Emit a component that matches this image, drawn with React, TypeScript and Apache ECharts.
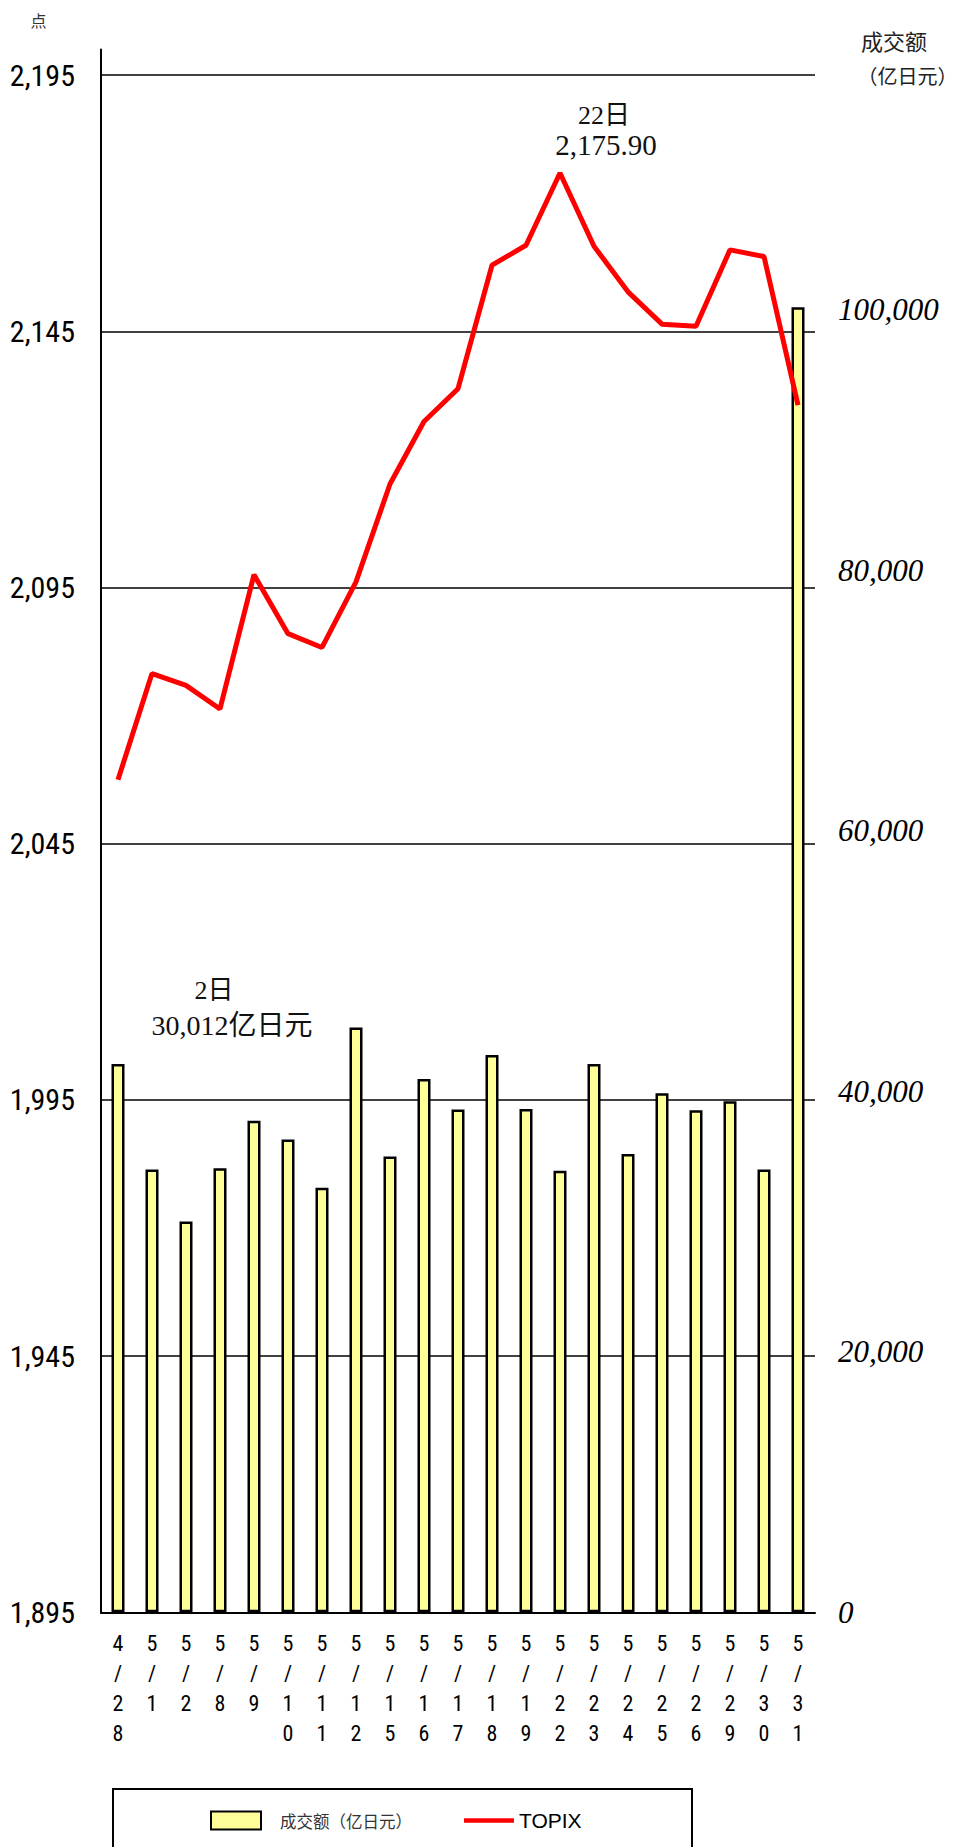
import React, { useEffect, useRef } from "react";
import * as echarts from "echarts";

// ---- data ----
const categories = ["4/28", "5/1", "5/2", "5/8", "5/9", "5/10", "5/11", "5/12", "5/15", "5/16", "5/17", "5/18", "5/19", "5/22", "5/23", "5/24", "5/25", "5/26", "5/29", "5/30", "5/31"];
// 成交额（亿日元）
const turnover = [42100, 34000, 30012, 34100, 37750, 36300, 32600, 44900, 35000, 40950, 38600, 42800, 38650, 33900, 42100, 35200, 39850, 38550, 39250, 34000, 100200];
// TOPIX
const topix = [2057.5, 2078.2, 2075.9, 2071.3, 2097.5, 2086.0, 2083.3, 2096.1, 2115.2, 2127.4, 2133.8, 2157.9, 2161.8, 2175.9, 2161.6, 2152.7, 2146.4, 2146.0, 2160.9, 2159.6, 2130.6];
const leftBase = 1895; // bottom of left axis
const leftSpan = 305; // 1895 .. 2200
const leftInterval = 50;
const rightMax = 120000;
const rightInterval = 20000;

const SERIF = "'Liberation Serif', 'DejaVu Serif', 'Noto Sans CJK SC', serif";
const CJK = "'Noto Sans CJK SC', sans-serif";
const NARROW = "'Liberation Sans Narrow', 'Arial Narrow', 'Roboto Condensed', 'Liberation Sans', sans-serif";

function fmt(n: number): string {
  return n.toLocaleString("en-US");
}

export default function App() {
  const ref = useRef<HTMLDivElement>(null);
  useEffect(() => {
    document.body.style.margin = "0";
    if (!ref.current) return;
    const chart = echarts.init(ref.current, undefined, { renderer: "svg" });
    const option: any = {
      animation: false,
      backgroundColor: "#fff",
      grid: { left: 101, right: 146, top: 49.5, bottom: 234.7, containLabel: false },
      xAxis: {
        type: "category",
        data: categories,
        boundaryGap: true,
        axisLine: { show: true, onZero: false, lineStyle: { color: "#000", width: 2 } },
        axisTick: { show: false },
        axisLabel: {
          interval: 0,
          margin: 16,
          fontSize: 22,
          lineHeight: 30,
          color: "#000",
          fontFamily: NARROW,
          formatter: (v: string) => v.split("").join("\n"),
        },
      },
      yAxis: [
        {
          type: "value",
          min: 0,
          max: leftSpan,
          interval: leftInterval,
          position: "left",
          axisLine: { show: true, lineStyle: { color: "#000", width: 2 } },
          axisTick: { show: false },
          splitLine: { show: true, showMaxLine: false, lineStyle: { color: "#000", width: 1.5 } },
          axisLabel: {
            margin: 26,
            fontSize: 30,
            color: "#000",
            fontFamily: NARROW,
            showMaxLabel: false,
            formatter: (v: number) => (v % leftInterval === 0 ? fmt(v + leftBase) : ""),
          },
        },
        {
          type: "value",
          min: 0,
          max: rightMax,
          interval: rightInterval,
          position: "right",
          axisLine: { show: false },
          axisTick: { show: false },
          splitLine: { show: false },
          axisLabel: {
            margin: 23,
            fontSize: 31,
            fontStyle: "italic",
            color: "#000",
            fontFamily: SERIF,
            showMaxLabel: false,
            formatter: (v: number) => (v >= rightMax ? "" : fmt(v)),
          },
        },
      ],
      legend: {
        left: 210,
        top: 1810,
        padding: 0,
        itemWidth: 50,
        itemHeight: 18,
        itemGap: 52,
        data: [
          { name: "成交额（亿日元）", icon: "rect", textStyle: { fontSize: 16.5, color: "#333", fontFamily: CJK, padding: [0, 0, 0, 14] } },
          { name: "TOPIX", icon: "path://M0,0 L56,0 L56,5 L0,5 Z", textStyle: { fontSize: 21, color: "#000", fontFamily: "'Liberation Sans', Arial, sans-serif" } },
        ],
      },
      series: [
        {
          name: "成交额（亿日元）",
          type: "bar",
          yAxisIndex: 1,
          barWidth: 13,
          data: turnover,
          itemStyle: { color: "#FFFF99", borderColor: "#000", borderWidth: 2.5 },
          z: 2,
        },
        {
          name: "TOPIX",
          type: "line",
          yAxisIndex: 0,
          data: topix.map((v) => +(v - leftBase).toFixed(2)),
          symbol: "none",
          lineStyle: { color: "#FF0000", width: 5 },
          itemStyle: { color: "#FF0000" },
          z: 3,
        },
      ],
      graphic: [
        { type: "text", x: 38.5, y: 20, style: { text: "点", fontSize: 16, fill: "#333", fontFamily: CJK, align: "center", verticalAlign: "middle" } },
        { type: "text", x: 894, y: 40, style: { text: "成交额", fontSize: 22, fill: "#222", fontFamily: CJK, align: "center", verticalAlign: "middle" } },
        { type: "text", x: 907.5, y: 75, style: { text: "（亿日元）", fontSize: 20, fill: "#222", fontFamily: CJK, align: "center", verticalAlign: "middle" } },
        { type: "text", x: 604, y: 115, style: { text: "22日", fontSize: 26, fill: "#111", fontFamily: SERIF, align: "center", verticalAlign: "middle" } },
        { type: "text", x: 606, y: 145, style: { text: "2,175.90", fontSize: 29, fill: "#111", fontFamily: SERIF, align: "center", verticalAlign: "middle" } },
        { type: "text", x: 214, y: 990, style: { text: "2日", fontSize: 26, fill: "#111", fontFamily: SERIF, align: "center", verticalAlign: "middle" } },
        { type: "text", x: 232, y: 1025, style: { text: "30,012亿日元", fontSize: 28, fill: "#111", fontFamily: SERIF, align: "center", verticalAlign: "middle" } },
        { type: "rect", shape: { x: 113, y: 1789, width: 579, height: 100 }, style: { fill: "none", stroke: "#000", lineWidth: 2 }, silent: true },
      ],
    };
    chart.setOption(option);
    return () => chart.dispose();
  }, []);
  return <div ref={ref} style={{ width: 961, height: 1847 }} />;
}
